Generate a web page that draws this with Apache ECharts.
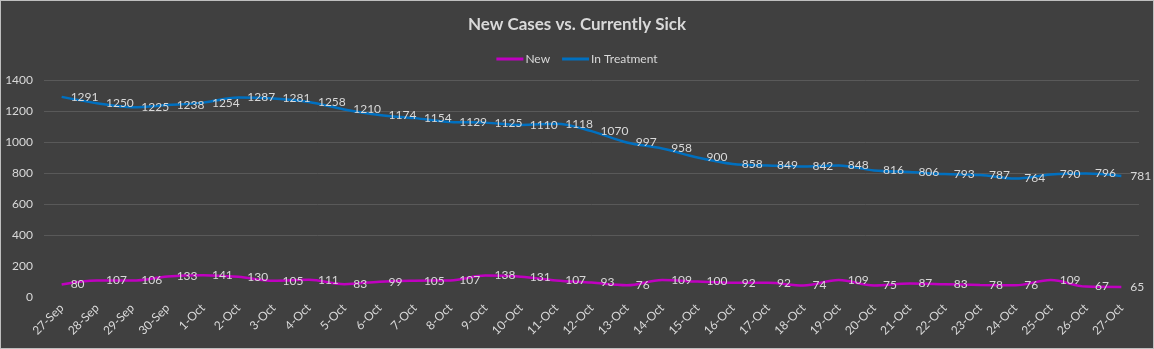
<!DOCTYPE html>
<html>
<head>
<meta charset="utf-8">
<script src="https://cdn.jsdelivr.net/npm/echarts@6/dist/echarts.min.js"></script>
<style>
  html, body { margin: 0; padding: 0; background: #404040; }
  #chart { width: 1152px; height: 347px; border: 1px solid #bfbfbf; }
</style>
</head>
<body>
<div id="chart"></div>
<script>
// Dates (27 Sep – 27 Oct)
const dates = ['27-Sep','28-Sep','29-Sep','30-Sep','1-Oct','2-Oct','3-Oct','4-Oct','5-Oct','6-Oct',
  '7-Oct','8-Oct','9-Oct','10-Oct','11-Oct','12-Oct','13-Oct','14-Oct','15-Oct','16-Oct',
  '17-Oct','18-Oct','19-Oct','20-Oct','21-Oct','22-Oct','23-Oct','24-Oct','25-Oct','26-Oct','27-Oct'];

// Daily new cases
const newCases = [80,107,106,133,141,130,105,111,83,99,105,107,138,131,107,93,76,109,100,92,
  92,74,109,75,87,83,78,76,109,67,65];

// People currently in treatment
const inTreatment = [1291,1250,1225,1238,1254,1287,1281,1258,1210,1174,1154,1129,1125,1110,1118,1070,997,958,900,858,
  849,842,848,816,806,793,787,764,790,796,781];

const seriesNames = ['New', 'In Treatment'];

const FONT = 'Lato, "Liberation Sans", sans-serif';
const TEXT = '#d9d9d9';

const chart = echarts.init(document.getElementById('chart'));

function lineSeries(name, data, color) {
  return {
    name: name,
    type: 'line',
    data: data,
    smooth: 0.35,
    showSymbol: true,
    symbol: 'circle',
    symbolSize: 0,
    lineStyle: { color: color, width: 2.5 },
    itemStyle: { color: color },
    label: {
      show: true,
      position: 'right',
      distance: 9,
      color: TEXT,
      fontFamily: FONT,
      fontSize: 12
    },
    labelLayout: { hideOverlap: false },
    emphasis: { disabled: true }
  };
}

chart.setOption({
  backgroundColor: '#404040',
  animation: false,
  title: {
    text: 'New Cases vs. Currently Sick',
    left: 'center',
    top: 10,
    textStyle: { color: TEXT, fontFamily: FONT, fontSize: 17, fontWeight: 'bold' }
  },
  legend: {
    data: seriesNames,
    top: 47,
    left: 'center',
    icon: 'rect',
    itemWidth: 27,
    itemHeight: 3,
    itemGap: 12,
    textStyle: { color: TEXT, fontFamily: FONT, fontSize: 12, padding: [0, 0, 0, -3] }
  },
  grid: { left: 43, right: 14, top: 79, bottom: 51, containLabel: false },
  xAxis: {
    type: 'category',
    data: dates,
    boundaryGap: true,
    axisLine: { show: false },
    axisTick: { show: false },
    axisLabel: {
      rotate: 45,
      margin: 9,
      interval: 0,
      color: TEXT,
      fontFamily: FONT,
      fontSize: 12
    }
  },
  yAxis: {
    type: 'value',
    min: 0,
    max: 1400,
    interval: 200,
    axisLine: { show: false },
    axisTick: { show: false },
    axisLabel: {
      margin: 11,
      color: TEXT,
      fontFamily: FONT,
      fontSize: 12,
      formatter: (v) => String(v)
    },
    splitLine: {
      lineStyle: {
        color: ['rgba(0,0,0,0)', 'rgba(0,0,0,0)', '#595959', '#595959', '#595959', '#595959', '#595959', '#595959'],
        width: 1
      }
    }
  },
  series: [
    lineSeries(seriesNames[0], newCases, '#c000c0'),
    lineSeries(seriesNames[1], inTreatment, '#0070c0')
  ]
});
</script>
</body>
</html>
